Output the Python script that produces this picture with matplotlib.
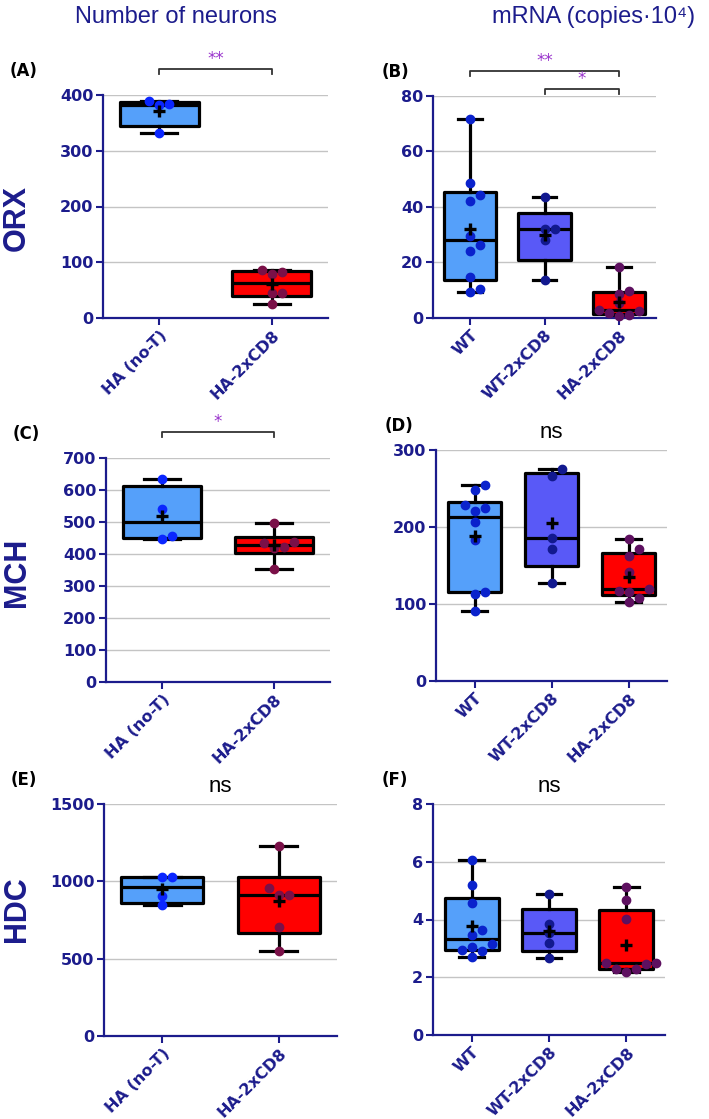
import numpy as np
import matplotlib.pyplot as plt
from matplotlib.transforms import blended_transform_factory

plt.rcParams["font.family"] = ["DejaVu Sans"]

NAVY = "#1c1c8c"
W, H = 709, 1119

# groups
neuron_groups = ["HA (no-T)", "HA-2xCD8"]
mrna_groups = ["WT", "WT-2xCD8", "HA-2xCD8"]

# values (one list per animal group)
orx_neurons = [[332, 381.5, 384, 389], [24.5, 44, 45, 79, 83, 86]]
orx_mrna = [[9.2, 10.5, 14.8, 24.0, 26.4, 29.5, 42.3, 44.4, 48.6, 71.7],
            [13.7, 28.2, 32.2, 32.2, 43.5],
            [0.9, 1.0, 1.9, 2.5, 2.9, 5.3, 8.8, 9.8, 18.4]]
mch_neurons = [[447, 455, 542, 635], [352, 419, 422, 435, 437, 498]]
mch_mrna = [[91, 113, 116, 183, 206, 221, 225, 228, 248, 255],
            [127, 172, 186, 266, 275],
            [102, 108, 115, 117, 119, 141, 162, 171, 185]]
hdc_neurons = [[845, 903, 1028, 1028], [547, 705, 909, 909, 959, 1226]]
hdc_mrna = [[2.69, 2.92, 2.94, 3.05, 3.14, 3.48, 3.65, 4.58, 5.21, 6.07],
            [2.67, 3.17, 3.52, 3.84, 4.88],
            [2.19, 2.27, 2.27, 2.46, 2.48, 2.48, 4.02, 4.67, 5.11]]

# significance marks: (group a, group b, label)
orx_neurons_sig = [(0, 1, "**")]
orx_mrna_sig = [(0, 2, "**"), (1, 2, "*")]
mch_neurons_sig = [(0, 1, "*")]

neuron_box_colors = ["#55a0fa", "#ff0000"]
mrna_box_colors = ["#55a0fa", "#5959f7", "#ff0000"]
neuron_dot_colors = ["#0a26ff", "#7a1048"]
mrna_dot_colors = ["#0a22cc", "#12198f", "#5e1060"]


def px_rect(left, right, top, bottom):
    return [left / W, 1 - bottom / H, (right - left) / W, (bottom - top) / H]


def swarm_offsets(ax, x0, values, step_px=10, min_dist=8.5):
    """Spread points sideways so that markers do not overlap."""
    tr = ax.transData
    placed = []
    offs = np.zeros(len(values))
    for i in np.argsort(values):
        y_px = tr.transform((x0, values[i]))[1]
        k = 0
        found = None
        while found is None:
            for c in ([0] if k == 0 else [k, -k]):
                dx = c * step_px
                if all((dx - px) ** 2 + (y_px - py) ** 2 >= min_dist ** 2
                       for px, py in placed):
                    found = dx
                    break
            k += 1
        placed.append((found, y_px))
        offs[i] = found
    unit = tr.transform((1, 0))[0] - tr.transform((0, 0))[0]
    return offs / unit


def draw_panel(fig, rect, groups, data, box_colors, dot_colors, yticks, letter,
               sig=None, ns=False):
    ax = fig.add_axes(rect)
    n = len(groups)
    pos = np.arange(n)
    ax.set_xlim(-0.5, n - 0.5)
    ax.set_ylim(0, yticks[-1])

    stats = []
    for v in data:
        q1, med, q3 = np.percentile(v, [25, 50, 75], method="weibull")
        stats.append(dict(med=med, q1=q1, q3=q3, whislo=min(v), whishi=max(v),
                          mean=np.mean(v), fliers=[]))
    lw = 2.3
    bp = ax.bxp(stats, positions=pos, widths=0.7, capwidths=0.32, patch_artist=True,
                showmeans=True, showfliers=False,
                boxprops=dict(edgecolor="black", linewidth=lw, joinstyle="round"),
                whiskerprops=dict(color="black", linewidth=lw),
                capprops=dict(color="black", linewidth=lw),
                medianprops=dict(color="black", linewidth=lw),
                meanprops=dict(marker="+", markeredgecolor="black", markersize=9,
                               markeredgewidth=2.4, zorder=5))
    for patch, c in zip(bp["boxes"], box_colors):
        patch.set_facecolor(c)

    for x0, v, c in zip(pos, data, dot_colors):
        dx = swarm_offsets(ax, x0, v)
        ax.plot(x0 + dx, v, "o", color=c, markersize=6, zorder=4, clip_on=False)

    ax.set_yticks(yticks)
    ax.set_xticks(pos)
    ax.set_xticklabels(groups, rotation=45, ha="right", rotation_mode="anchor")
    for lab in ax.get_xticklabels() + ax.get_yticklabels():
        lab.set_fontweight("bold")
        lab.set_color(NAVY)
        lab.set_fontsize(11.5)
    ax.tick_params(colors=NAVY, width=1.5, length=5, pad=2)
    for s in ["top", "right"]:
        ax.spines[s].set_visible(False)
    for s in ["left", "bottom"]:
        ax.spines[s].set_color(NAVY)
        ax.spines[s].set_linewidth(1.6)
    ax.yaxis.grid(True, color="#c4c4c4", linewidth=1)
    ax.set_axisbelow(True)

    trans = blended_transform_factory(ax.transData, ax.transAxes)
    if sig:
        for a, b, label in sig:
            yb = sig_heights[(letter, label)]
            tick = 5 / (rect[3] * H)
            ax.plot([a, a, b, b], [yb - tick, yb, yb, yb - tick], color="#333333",
                    linewidth=1.3, transform=trans, clip_on=False)
            ax.text((a + b) / 2, yb + 0.006, label, color="#9933cc", fontsize=12,
                    ha="center", va="bottom", transform=trans)
    if ns:
        ax.text(0.5, 1.03, "ns", fontsize=16, family="Liberation Sans",
                ha="center", va="bottom", transform=ax.transAxes)

    fig.text(rect[0] - (93 if rect[0] < 0.5 else 51) / W, rect[1] + rect[3] + 24 / H,
             letter, fontsize=12, fontweight="bold", ha="left", va="center")
    return ax


sig_heights = {("(A)", "**"): 1.117, ("(B)", "**"): 1.113, ("(B)", "*"): 1.032,
               ("(C)", "*"): 1.116}

fig = plt.figure(figsize=(W / 100, H / 100), dpi=100)

draw_panel(fig, px_rect(103, 328, 95, 318), neuron_groups, orx_neurons,
           neuron_box_colors, neuron_dot_colors, [0, 100, 200, 300, 400], "(A)",
           sig=orx_neurons_sig)
draw_panel(fig, px_rect(433, 656, 96, 318), mrna_groups, orx_mrna,
           mrna_box_colors, mrna_dot_colors, [0, 20, 40, 60, 80], "(B)",
           sig=orx_mrna_sig)
draw_panel(fig, px_rect(106, 330, 458, 682), neuron_groups, mch_neurons,
           neuron_box_colors, neuron_dot_colors, list(range(0, 701, 100)), "(C)",
           sig=mch_neurons_sig)
draw_panel(fig, px_rect(436, 667, 450, 681), mrna_groups, mch_mrna,
           mrna_box_colors, mrna_dot_colors, [0, 100, 200, 300], "(D)", ns=True)
draw_panel(fig, px_rect(104, 337, 804, 1036), neuron_groups, hdc_neurons,
           neuron_box_colors, neuron_dot_colors, [0, 500, 1000, 1500], "(E)", ns=True)
draw_panel(fig, px_rect(433, 665, 804, 1035), mrna_groups, hdc_mrna,
           mrna_box_colors, mrna_dot_colors, [0, 2, 4, 6, 8], "(F)", ns=True)

# column titles
fig.text(176 / W, 1 - 17 / H, "Number of neurons", fontsize=17, color=NAVY,
         family=["Liberation Sans", "DejaVu Sans"], ha="center", va="center")
fig.text(594 / W, 1 - 17 / H, "mRNA (copies\u00b710\u2074)", fontsize=17, color=NAVY,
         family=["Liberation Sans", "DejaVu Sans"], ha="center", va="center")

# row labels
for label, yc in [("ORX", 218), ("MCH", 572), ("HDC", 909)]:
    fig.text(17 / W, 1 - yc / H, label, fontsize=22, fontweight="bold", color=NAVY,
             family="Liberation Sans", rotation=90, ha="center", va="center")

fig.savefig("out.png", dpi=100)
